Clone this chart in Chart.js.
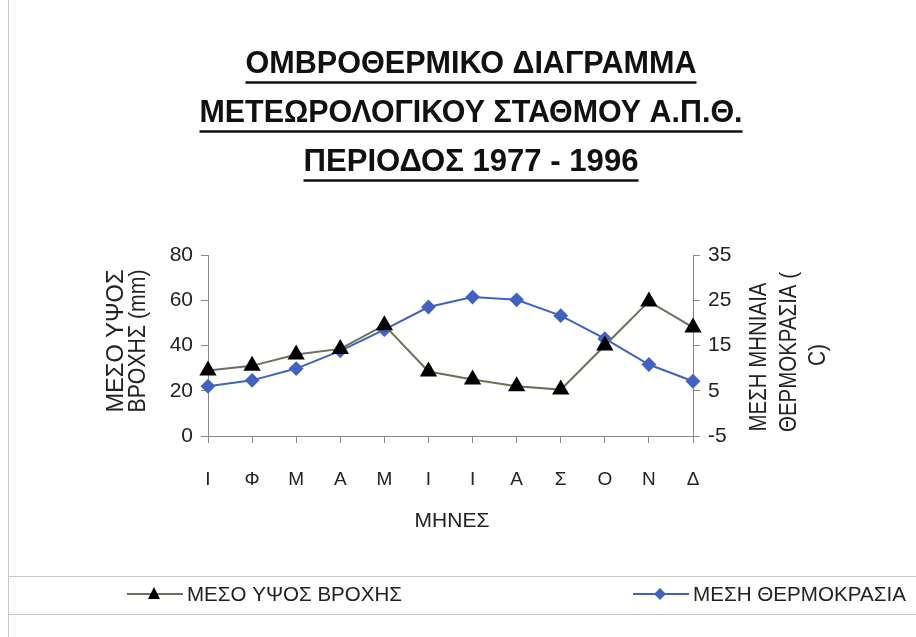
<!DOCTYPE html>
<html>
<head>
<meta charset="utf-8">
<script src="https://cdn.jsdelivr.net/npm/chart.js@4.4.0/dist/chart.umd.min.js"></script>
<style>
  html, body { margin: 0; padding: 0; background: #fff; }
  #wrap { width: 916px; height: 637px; }
</style>
</head>
<body>
<div id="wrap"><canvas id="ombro" width="916" height="637"></canvas></div>
<script>
// Δεδομένα διαγράμματος
const months = ['Ι', 'Φ', 'Μ', 'Α', 'Μ', 'Ι', 'Ι', 'Α', 'Σ', 'Ο', 'Ν', 'Δ'];
const rainfall = [29, 31, 36, 38.5, 49, 28.5, 25, 22, 20.5, 40, 59.5, 48];
const temperature = [6.0, 7.3, 9.9, 13.8, 18.5, 23.5, 25.7, 25.1, 21.6, 16.5, 10.8, 7.1];
const rainRange = [0, 80];
const rainStep = 20;
const tempRange = [-5, 35];
const tempStep = 10;
const titleLines = ['ΟΜΒΡΟΘΕΡΜΙΚΟ ΔΙΑΓΡΑΜΜΑ', 'ΜΕΤΕΩΡΟΛΟΓΙΚΟΥ ΣΤΑΘΜΟΥ Α.Π.Θ.', 'ΠΕΡΙΟΔΟΣ 1977 - 1996'];
const rainLabel = 'ΜΕΣΟ ΥΨΟΣ ΒΡΟΧΗΣ';
const tempLabel = 'ΜΕΣΗ ΘΕΡΜΟΚΡΑΣΙΑ';
const leftAxisTitle = ['ΜΕΣΟ ΥΨΟΣ', 'ΒΡΟΧΗΣ (mm)'];
const rightAxisTitle = ['ΜΕΣΗ ΜΗΝΙΑΙΑ', 'ΘΕΡΜΟΚΡΑΣΙΑ (', 'C)'];
const xAxisTitle = 'ΜΗΝΕΣ';

const FONT = "'Liberation Sans Narrow', 'Arial Narrow', 'Liberation Sans', Arial, sans-serif";
const rainColor = '#6e6e5a';
const tempColor = '#4262c0';

// Τίτλος, τίτλοι αξόνων και υπόμνημα
const decorPlugin = {
    id: 'decor',
    afterDraw(chart) {
        const ctx = chart.ctx;
        ctx.save();

        // πλαίσιο
        ctx.strokeStyle = '#c8c8c8';
        ctx.lineWidth = 1;
        ctx.beginPath();
        ctx.moveTo(8.5, 0); ctx.lineTo(8.5, 637);
        ctx.moveTo(8, 576.5); ctx.lineTo(916, 576.5);
        ctx.moveTo(8, 614.5); ctx.lineTo(916, 614.5);
        ctx.stroke();

        // τίτλος με υπογράμμιση
        ctx.fillStyle = '#111';
        ctx.strokeStyle = '#111';
        ctx.font = 'bold 32px ' + FONT;
        ctx.textAlign = 'center';
        ctx.textBaseline = 'middle';
        const titleY = [64, 113, 162];
        const titleW = [451, 543, 335];
        titleLines.forEach((t, i) => {
            const w = Math.min(ctx.measureText(t).width, titleW[i]);
            ctx.fillText(t, 471, titleY[i], titleW[i]);
            ctx.lineWidth = 2.5;
            ctx.beginPath();
            ctx.moveTo(471 - w / 2, titleY[i] + 18.5);
            ctx.lineTo(471 + w / 2, titleY[i] + 18.5);
            ctx.stroke();
        });

        // τίτλοι αξόνων
        ctx.font = '24px ' + FONT;
        ctx.fillStyle = '#222';
        const leftPos = [[116, 341, 143], [138, 341, 143]];
        const rightPos = [[759, 357, 149], [789, 352, 160], [818, 355, 22]];
        [[leftAxisTitle, leftPos], [rightAxisTitle, rightPos]].forEach(([lines, pos]) => {
            lines.forEach((t, i) => {
                ctx.save();
                ctx.translate(pos[i][0], pos[i][1]);
                ctx.rotate(-Math.PI / 2);
                ctx.fillText(t, 0, 0, pos[i][2]);
                ctx.restore();
            });
        });
        ctx.font = '21px ' + FONT;
        ctx.fillText(xAxisTitle, 452, 521);

        // υπόμνημα
        ctx.font = '21px ' + FONT;
        ctx.textAlign = 'left';
        const ly = 594;
        const items = [
            { x: 127, color: rainColor, mark: 'triangle', fill: '#000', text: rainLabel, w: 215 },
            { x: 633, color: tempColor, mark: 'diamond', fill: tempColor, text: tempLabel, w: 213 }
        ];
        items.forEach(it => {
            ctx.strokeStyle = it.color;
            ctx.lineWidth = 2;
            ctx.beginPath();
            ctx.moveTo(it.x, ly); ctx.lineTo(it.x + 56, ly);
            ctx.stroke();
            ctx.fillStyle = it.fill;
            const cx = it.x + 27;
            ctx.beginPath();
            if (it.mark === 'triangle') {
                ctx.moveTo(cx, ly - 7); ctx.lineTo(cx + 6, ly + 5); ctx.lineTo(cx - 6, ly + 5);
            } else {
                ctx.moveTo(cx, ly - 6); ctx.lineTo(cx + 6, ly); ctx.lineTo(cx, ly + 6); ctx.lineTo(cx - 6, ly);
            }
            ctx.closePath();
            ctx.fill();
            ctx.fillStyle = '#222';
            ctx.fillText(it.text, it.x + 60, ly + 1, it.w);
        });
        ctx.restore();
    }
};

function fixWidth(w) {
    return function(scale) {
        scale.width = w;
        scale.paddingTop = 0;
        scale.paddingBottom = 0;
    };
}

new Chart(document.getElementById('ombro'), {
    type: 'line',
    data: {
        labels: months,
        datasets: [{
            label: rainLabel,
            data: rainfall,
            yAxisID: 'y',
            borderColor: rainColor,
            borderWidth: 2,
            pointStyle: 'triangle',
            pointRadius: 8,
            pointBackgroundColor: '#000',
            pointBorderColor: '#000',
            tension: 0
        }, {
            label: tempLabel,
            data: temperature,
            yAxisID: 'y1',
            borderColor: tempColor,
            borderWidth: 2,
            pointStyle: 'rectRot',
            pointRadius: 6,
            pointBackgroundColor: tempColor,
            pointBorderColor: tempColor,
            tension: 0
        }]
    },
    options: {
        responsive: false,
        animation: false,
        events: [],
        layout: { padding: { top: 255, left: 0, right: 0, bottom: 0 } },
        plugins: {
            legend: { display: false },
            tooltip: { enabled: false }
        },
        scales: {
            x: {
                offset: false,
                grid: { drawOnChartArea: false, color: '#888', tickLength: 7 },
                border: { color: '#888' },
                ticks: { color: '#222', padding: 25, font: { family: FONT, size: 19 }, maxRotation: 0, autoSkip: false },
                afterFit(scale) {
                    scale.height = 201;
                    scale.paddingLeft = 0;
                    scale.paddingRight = 0;
                }
            },
            y: {
                position: 'left',
                min: rainRange[0],
                max: rainRange[1],
                grid: { drawOnChartArea: false, color: '#888', tickLength: 7 },
                border: { color: '#888' },
                ticks: { stepSize: rainStep, color: '#222', padding: 8, font: { family: FONT, size: 21 } },
                afterFit: fixWidth(208)
            },
            y1: {
                position: 'right',
                min: tempRange[0],
                max: tempRange[1],
                grid: { drawOnChartArea: false, color: '#888', tickLength: 7 },
                border: { color: '#888' },
                ticks: { stepSize: tempStep, color: '#222', padding: 8, font: { family: FONT, size: 21 } },
                afterFit: fixWidth(223)
            }
        }
    },
    plugins: [decorPlugin]
});
</script>
</body>
</html>
